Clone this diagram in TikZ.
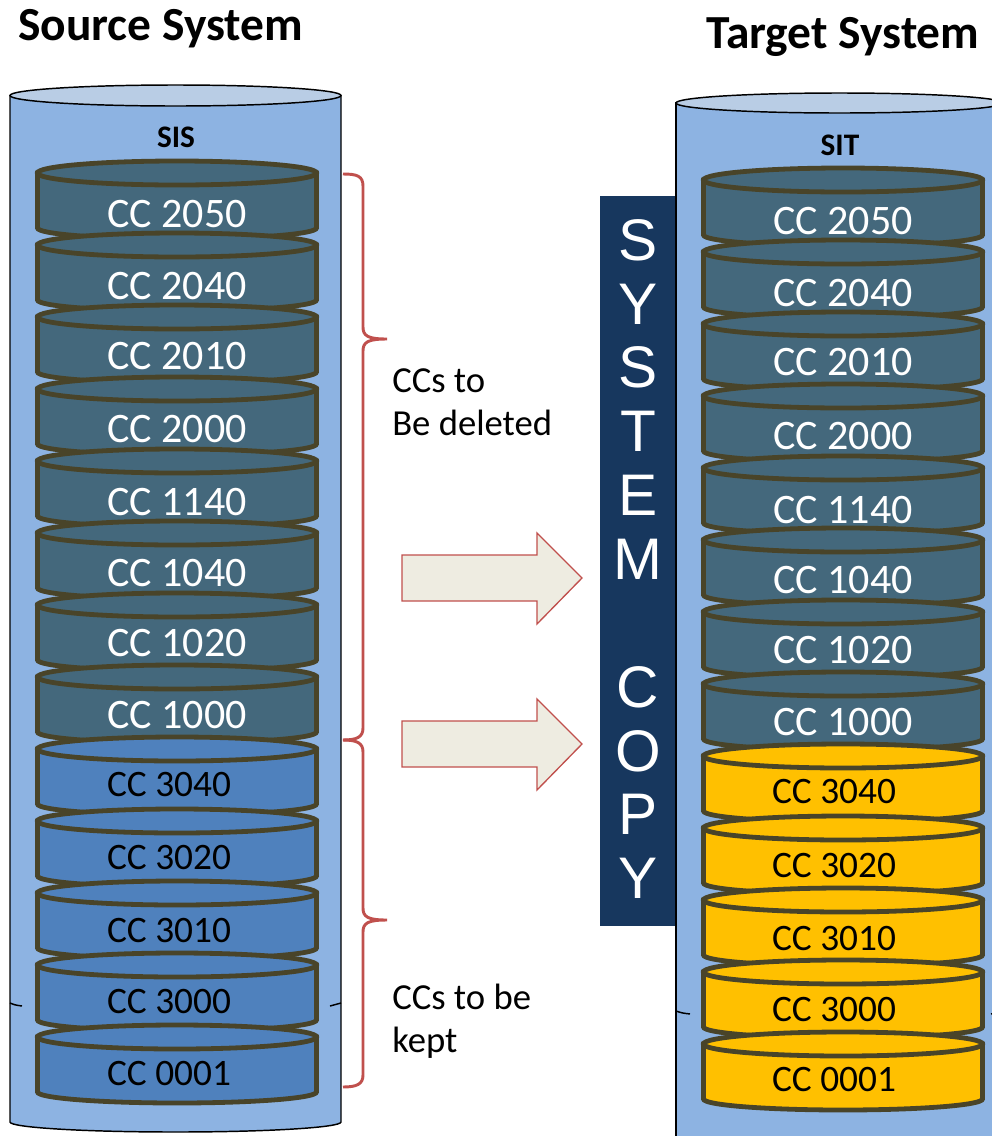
\documentclass[tikz,border=0pt]{standalone}
\usepackage{fontspec}
\setmainfont{Carlito}
\newfontfamily\copyfont{Liberation Sans}
\usepackage{tikz}

\begin{document}
\begin{tikzpicture}[x=0.75pt,y=0.75pt,yscale=-1,xscale=1,
  outercan/.style={draw=black, line width=1.1pt, fill={rgb, 255:red, 141; green, 179; blue, 226 }},
  outertop/.style={draw=black, line width=1.1pt, fill={rgb, 255:red, 185; green, 205; blue, 229 }},
  diskline/.style={draw={rgb, 255:red, 73; green, 68; blue, 41 }, line width=3.6pt},
  darkcc/.style={diskline, fill={rgb, 255:red, 68; green, 104; blue, 124 }},
  bluecc/.style={diskline, fill={rgb, 255:red, 79; green, 129; blue, 189 }},
  goldcc/.style={diskline, fill={rgb, 255:red, 255; green, 192; blue, 0 }},
  darktxt/.style={text=white, font=\fontsize{31.5}{37}\selectfont, inner sep=0pt},
  lighttxt/.style={text=black, font=\fontsize{28}{34}\selectfont, inner sep=0pt},
  bracered/.style={draw={rgb, 255:red, 192; green, 80; blue, 77 }, line width=2.2pt},
  blockarrow/.style={draw={rgb, 255:red, 192; green, 80; blue, 77 }, line width=1pt, fill={rgb, 255:red, 238; green, 236; blue, 225 }},
  ccdisk/.pic={
    % y runs upwards inside the pic
    \path[pic actions] (-139.5,0) -- (-139.5,-55) arc[start angle=180, end angle=360, x radius=139.5, y radius=11] -- (139.5,0) -- cycle;
    \path[pic actions] (0,0) ellipse [x radius=139.5, y radius=12];
  }
]
\useasboundingbox (0,0) rectangle (992,1136);
\clip (0,0) rectangle (992,1136);

%Shape: Can [id:source can]
\path[outercan] (10,95.5) -- (10,1122) arc[start angle=180, end angle=0, x radius=165.5, y radius=10] -- (341,95.5) -- cycle;
\path[outertop] (175.5,95.5) ellipse [x radius=165.5, y radius=10.5];
\draw[line width=1.1pt] (10,1003) .. controls (15,1005) .. (22,1006);
\draw[line width=1.1pt] (330,1006) .. controls (336,1005) .. (341,1003);

%Shape: Can [id:target can]
\path[outercan] (676,103) -- (676,1160) -- (1003,1160) -- (1003,103) -- cycle;
\path[outertop] (839.5,103) ellipse [x radius=163.5, y radius=10];
\draw[line width=1.1pt] (676,1011) .. controls (682,1013) .. (690,1014);
\draw[line width=1.1pt] (991,1014) .. controls (997,1013) .. (1003,1011);

%Shape: Rectangle [id:system copy]
\path[fill={rgb, 255:red, 23; green, 55; blue, 94 }] (600,196) rectangle (675,926);
\node[text=white, font=\copyfont\fontsize{44}{47.9}\selectfont, align=center, inner sep=0pt] (copy) at (638,559) {S\\Y\\S\\T\\E\\M\\\mbox{}\\C\\O\\P\\Y};

%Text Node
\node[anchor=base west, font=\bfseries\fontsize{35.6}{42}\selectfont, inner sep=0pt] (source) at (18,40) {Source System};
\node[anchor=base west, font=\bfseries\fontsize{35.6}{42}\selectfont, inner sep=0pt] (target) at (706,48) {Target System};
\node[font=\bfseries\fontsize{23.5}{28}\selectfont, inner sep=0pt] (sis) at (176,137) {SIS};
\node[font=\bfseries\fontsize{23.5}{28}\selectfont, inner sep=0pt] (sit) at (840,145) {SIT};

%Shape: Can [id:source clients]
\pic[darkcc] at (177,173) {ccdisk};  \node[darktxt] (s2050) at (177,214) {CC 2050};
\pic[darkcc] at (177,245) {ccdisk};  \node[darktxt] (s2040) at (177,286) {CC 2040};
\pic[darkcc] at (177,317) {ccdisk};  \node[darktxt] (s2010) at (177,356) {CC 2010};
\pic[darkcc] at (177,389) {ccdisk};  \node[darktxt] (s2000) at (177,429) {CC 2000};
\pic[darkcc] at (177,461) {ccdisk};  \node[darktxt] (s1140) at (177,502) {CC 1140};
\pic[darkcc] at (177,533) {ccdisk};  \node[darktxt] (s1040) at (177,573) {CC 1040};
\pic[darkcc] at (177,605) {ccdisk};  \node[darktxt] (s1020) at (177,643) {CC 1020};
\pic[darkcc] at (177,677) {ccdisk};  \node[darktxt] (s1000) at (177,715) {CC 1000};
\pic[bluecc] at (177,749) {ccdisk};  \node[lighttxt] (s3040) at (169,785) {CC 3040};
\pic[bluecc] at (177,821) {ccdisk};  \node[lighttxt] (s3020) at (169,858) {CC 3020};
\pic[bluecc] at (177,893) {ccdisk};  \node[lighttxt] (s3010) at (169,931) {CC 3010};
\pic[bluecc] at (177,965) {ccdisk};  \node[lighttxt] (s3000) at (169,1002) {CC 3000};
\pic[bluecc] at (177,1037) {ccdisk}; \node[lighttxt] (s0001) at (169,1073) {CC 0001};

%Shape: Can [id:target clients]
\pic[darkcc] at (843,180) {ccdisk};  \node[darktxt] (t2050) at (843,221) {CC 2050};
\pic[darkcc] at (843,252) {ccdisk};  \node[darktxt] (t2040) at (843,293) {CC 2040};
\pic[darkcc] at (843,324) {ccdisk};  \node[darktxt] (t2010) at (843,362) {CC 2010};
\pic[darkcc] at (843,396) {ccdisk};  \node[darktxt] (t2000) at (843,436) {CC 2000};
\pic[darkcc] at (843,468) {ccdisk};  \node[darktxt] (t1140) at (843,510) {CC 1140};
\pic[darkcc] at (843,540) {ccdisk};  \node[darktxt] (t1040) at (843,580) {CC 1040};
\pic[darkcc] at (843,612) {ccdisk};  \node[darktxt] (t1020) at (843,650) {CC 1020};
\pic[darkcc] at (843,684) {ccdisk};  \node[darktxt] (t1000) at (843,722) {CC 1000};
\pic[goldcc] at (843,756) {ccdisk};  \node[lighttxt] (t3040) at (834,792) {CC 3040};
\pic[goldcc] at (843,828) {ccdisk};  \node[lighttxt] (t3020) at (834,866) {CC 3020};
\pic[goldcc] at (843,900) {ccdisk};  \node[lighttxt] (t3010) at (834,939) {CC 3010};
\pic[goldcc] at (843,972) {ccdisk};  \node[lighttxt] (t3000) at (834,1010) {CC 3000};
\pic[goldcc] at (843,1044) {ccdisk}; \node[lighttxt] (t0001) at (834,1080) {CC 0001};

%Shape: Brace [id:deleted]
\draw[bracered] (343,174) .. controls (357,174) and (363,176) .. (363,186) -- (363,327) .. controls (363,336) and (368,339) .. (387,339) .. controls (368,339) and (363,342) .. (363,351) -- (363,728) .. controls (363,737) and (357,740) .. (343,740);
%Shape: Brace [id:kept]
\draw[bracered] (343,740) .. controls (357,740) and (363,743) .. (363,752) -- (363,908) .. controls (363,917) and (368,920) .. (387,920) .. controls (368,920) and (363,923) .. (363,932) -- (363,1075) .. controls (363,1084) and (357,1087) .. (343,1087);

\node[anchor=west, align=left, font=\fontsize{27.5}{32.3}\selectfont, inner sep=0pt] (deltext) at (392,402) {CCs to\\Be deleted};
\node[anchor=west, align=left, font=\fontsize{27.5}{32.3}\selectfont, inner sep=0pt] (kepttext) at (392,1021) {CCs to be\\kept};

%Shape: Right Arrow [id:upper]
\draw[blockarrow] (402,555) -- (537,555) -- (537,533) -- (582,578) -- (537,624) -- (537,601) -- (402,601) -- cycle;
%Shape: Right Arrow [id:lower]
\draw[blockarrow] (402,721) -- (537,721) -- (537,699) -- (582,744) -- (537,790) -- (537,767) -- (402,767) -- cycle;

\end{tikzpicture}
\end{document}
